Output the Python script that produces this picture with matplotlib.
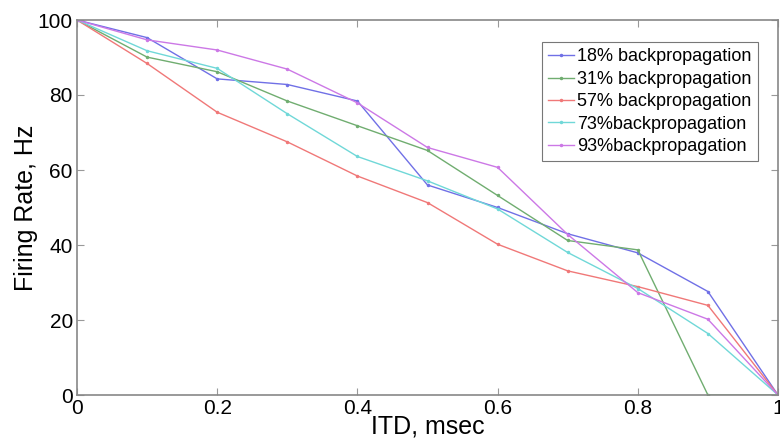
import matplotlib
matplotlib.use("Agg")
import matplotlib.pyplot as plt

plt.rcParams['font.family'] = ['Liberation Sans', 'DejaVu Sans']

itd = [0, 0.1, 0.2, 0.3, 0.4, 0.5, 0.6, 0.7, 0.8, 0.9, 1.0]
bp18 = [100, 95.3, 84.3, 82.8, 78.4, 56.0, 50.0, 43.0, 37.9, 27.6, 0]
bp31 = [100, 90.1, 86.2, 78.4, 71.8, 65.2, 53.2, 41.2, 38.7, 0, 0]
bp57 = [100, 88.4, 75.4, 67.5, 58.4, 51.3, 40.2, 33.1, 28.9, 23.9, 0]
bp73 = [100, 91.8, 87.1, 75.0, 63.6, 57.1, 49.6, 38.0, 28.4, 16.4, 0]
bp93 = [100, 94.7, 92.0, 86.9, 77.9, 66.0, 60.7, 42.8, 27.3, 20.2, 0]
labels = ['18% backpropagation', '31% backpropagation', '57% backpropagation',
          '73%backpropagation', '93%backpropagation']
colors = ['#7070e6', '#70ad70', '#f07878', '#70d8d8', '#cc78e6']

fig = plt.figure(figsize=(7.8, 4.4), dpi=100)
ax = fig.add_axes([77/780, 45/440, 701/780, 375/440])

for ys, lab, c in zip([bp18, bp31, bp57, bp73, bp93], labels, colors):
    ax.plot(itd, ys, color=c, lw=1.0, marker='.', ms=3, label=lab)

ax.set_xlim(0, 1)
ax.set_ylim(0, 100)
ax.set_xticks([0, 0.2, 0.4, 0.6, 0.8, 1])
ax.set_xticklabels(['0', '0.2', '0.4', '0.6', '0.8', '1'])
ax.set_yticks([0, 20, 40, 60, 80, 100])
ax.tick_params(direction='in', top=True, right=True, labelsize=15,
               color='#999999', length=5, pad=3)
for s in ax.spines.values():
    s.set_color('#888888')
    s.set_linewidth(1.2)

ax.set_xlabel('ITD, msec', fontsize=18, labelpad=-3)
ax.set_ylabel('Firing Rate, Hz', fontsize=18, labelpad=0)

leg = ax.legend(loc='upper right', bbox_to_anchor=(0.971, 0.941), fontsize=13,
                frameon=True, fancybox=False, handlelength=1.45,
                handletextpad=0.15, borderpad=0.35, borderaxespad=0,
                labelspacing=0.3)
leg.get_frame().set_edgecolor('#555555')
leg.get_frame().set_linewidth(0.8)

fig.savefig('out.png', dpi=100)
